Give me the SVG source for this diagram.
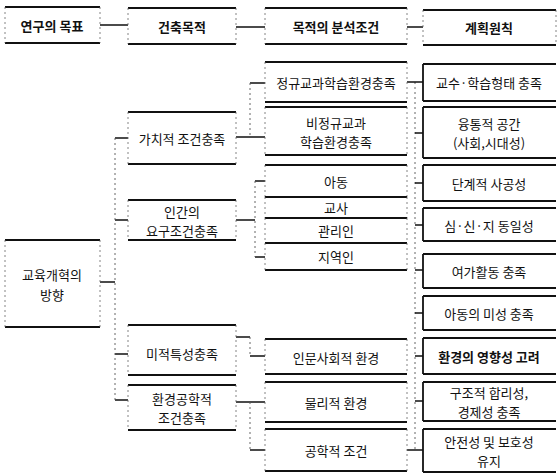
<svg xmlns="http://www.w3.org/2000/svg" width="558" height="476" viewBox="0 0 558 476">
<style>
.bg{fill:#fff}
.tb{stroke:#111;stroke-width:1.8;fill:none}
.sd{stroke:#666;stroke-width:0.8;stroke-dasharray:2 3;fill:none}
.sl{stroke:#111;stroke-width:1.8;fill:none}
.h{stroke:#111;stroke-width:1.3;fill:none}
.v{stroke:#555;stroke-width:0.9;stroke-dasharray:2 3;fill:none}
text{font-family:"Noto Sans CJK KR","Noto Sans",sans-serif;font-size:13px;fill:#111;text-anchor:middle;dominant-baseline:central}
.b{font-weight:bold}
</style>
<rect class="bg" x="0" y="0" width="558" height="476"/>

<g id="connectors">
  <!-- header row -->
  <path class="h" d="M100 25H128M236 27H265M407 27H423"/>
  <!-- column 1 to column 2 -->
  <path class="h" d="M100 282H115M115 138H128M115 220H128M115 354H128M115 400H128"/>
  <path class="v" d="M115 138V400"/>
  <!-- column 2 to column 3 -->
  <path class="h" d="M236 137H265M250 83H265"/>
  <path class="v" d="M250 83V137"/>
  <path class="h" d="M236 220H255M255 181H265M255 257H265"/>
  <path class="v" d="M255 181V257"/>
  <path class="h" d="M236 337H250M250 356H265"/>
  <path class="v" d="M250 337V356"/>
  <path class="h" d="M236 402H265M250 450H265"/>
  <path class="v" d="M250 402V450"/>
  <!-- column 3 to column 4 -->
  <path class="v" d="M415 82V450"/>
  <path class="h" d="M407 82H423M415 133H423M415 183H423M415 225H423M415 270H423M415 313H423M415 356H423M415 401H423M407 450H423"/>
</g>

<!-- column 1 -->
<g id="n-goal">
  <path class="tb" d="M5 7H100M5 43H100"/><path class="sd" d="M5 7V43M100 7V43"/>
  <text x="52" y="25" class="b">연구의 목표</text>
</g>
<g id="n-direction">
  <path class="tb" d="M5 240H100M5 327H100"/><path class="sd" d="M5 240V327M100 240V327"/>
  <text x="52" y="274">교육개혁의</text>
  <text x="52" y="294">방향</text>
</g>

<!-- column 2 -->
<g id="n-purpose">
  <path class="tb" d="M128 8H236M128 44H236"/><path class="sd" d="M128 8V44M236 8V44"/>
  <text x="182" y="26" class="b">건축목적</text>
</g>
<g id="n-value">
  <path class="tb" d="M128 112H236M128 164H236"/><path class="sd" d="M128 112V164M236 112V164"/>
  <text x="182" y="138">가치적 조건충족</text>
</g>
<g id="n-human">
  <path class="tb" d="M128 200H236M128 240H236"/><path class="sd" d="M128 200V240M236 200V240"/>
  <text x="182" y="211">인간의</text>
  <text x="182" y="230">요구조건충족</text>
</g>
<g id="n-aesthetic">
  <path class="tb" d="M128 325H236M128 375H236"/><path class="sd" d="M128 325V375M236 325V375"/>
  <text x="182" y="353">미적특성충족</text>
</g>
<g id="n-envtech">
  <path class="tb" d="M128 385H236M128 430H236"/><path class="sd" d="M128 385V430M236 385V430"/>
  <text x="182" y="398">환경공학적</text>
  <text x="182" y="417">조건충족</text>
</g>

<!-- column 3 -->
<g id="n-analysis">
  <path class="tb" d="M265 8H407M265 44H407"/><path class="sd" d="M265 8V44M407 8V44"/>
  <text x="336" y="26" class="b">목적의 분석조건</text>
</g>
<g id="n-regular">
  <path class="tb" d="M265 62H407M265 102H407"/><path class="sd" d="M265 62V102M407 62V102"/>
  <text x="336" y="82">정규교과학습환경충족</text>
</g>
<g id="n-irregular">
  <path class="tb" d="M265 107H407M265 155H407"/><path class="sd" d="M265 107V155M407 107V155"/>
  <text x="336" y="122">비정규교과</text>
  <text x="336" y="141">학습환경충족</text>
</g>
<g id="n-child">
  <path class="tb" d="M265 165H407M265 197H407"/><path class="sd" d="M265 165V197M407 165V197"/>
  <text x="336" y="181">아동</text>
</g>
<g id="n-teacher">
  <path class="tb" d="M265 197H407M265 218H407"/><path class="sd" d="M265 197V218M407 197V218"/>
  <text x="336" y="207">교사</text>
</g>
<g id="n-manager">
  <path class="tb" d="M265 218H407M265 243H407"/><path class="sd" d="M265 218V243M407 218V243"/>
  <text x="336" y="230">관리인</text>
</g>
<g id="n-local">
  <path class="tb" d="M265 243H407M265 270H407"/><path class="sd" d="M265 243V270M407 243V270"/>
  <text x="336" y="256">지역인</text>
</g>
<g id="n-humanities">
  <path class="tb" d="M265 339H407M265 374H407"/><path class="sd" d="M265 339V374M407 339V374"/>
  <text x="336" y="357">인문사회적 환경</text>
</g>
<g id="n-physical">
  <path class="tb" d="M265 382H407M265 422H407"/><path class="sd" d="M265 382V422M407 382V422"/>
  <text x="336" y="402">물리적 환경</text>
</g>
<g id="n-engineering">
  <path class="tb" d="M265 429H407M265 471H407"/><path class="sd" d="M265 429V471M407 429V471"/>
  <text x="336" y="450">공학적 조건</text>
</g>

<!-- column 4 -->
<g id="n-principle">
  <path class="tb" d="M423 10H556M423 45H556"/><path class="sd" d="M423 10V45M556 10V45"/>
  <text x="489" y="27" class="b">계획원칙</text>
</g>
<g id="n-teaching">
  <path class="tb" d="M423 64H556M423 101H556"/><path class="sl" d="M423 64V101"/>
  <text x="489" y="82">교수·학습형태 충족</text>
</g>
<g id="n-flexible">
  <path class="tb" d="M423 107H556M423 158H556"/><path class="sl" d="M423 107V158"/>
  <text x="489" y="123">융통적 공간</text>
  <text x="489" y="142">(사회,시대성)</text>
</g>
<g id="n-phased">
  <path class="tb" d="M423 165H556M423 201H556"/><path class="sl" d="M423 165V201"/>
  <text x="489" y="183">단계적 사공성</text>
</g>
<g id="n-unity">
  <path class="tb" d="M423 208H556M423 241H556"/><path class="sl" d="M423 208V241"/>
  <text x="489" y="225">심·신·지 동일성</text>
</g>
<g id="n-leisure">
  <path class="tb" d="M423 254H556M423 288H556"/><path class="sl" d="M423 254V288"/>
  <text x="489" y="271">여가활동 충족</text>
</g>
<g id="n-childaes">
  <path class="tb" d="M423 296H556M423 330H556"/><path class="sl" d="M423 296V330"/>
  <text x="489" y="313">아동의 미성 충족</text>
</g>
<g id="n-influence">
  <path class="tb" d="M423 338H556M423 374H556"/><path class="sl" d="M423 338V374"/>
  <text x="489" y="356" class="b">환경의 영향성 고려</text>
</g>
<g id="n-structure">
  <path class="tb" d="M423 382H556M423 421H556"/><path class="sl" d="M423 382V421"/>
  <text x="489" y="392">구조적 합리성,</text>
  <text x="489" y="411">경제성 충족</text>
</g>
<g id="n-safety">
  <path class="tb" d="M423 429H556M423 472H556"/><path class="sl" d="M423 429V472"/>
  <text x="489" y="441">안전성 및 보호성</text>
  <text x="489" y="460">유지</text>
</g>
</svg>
